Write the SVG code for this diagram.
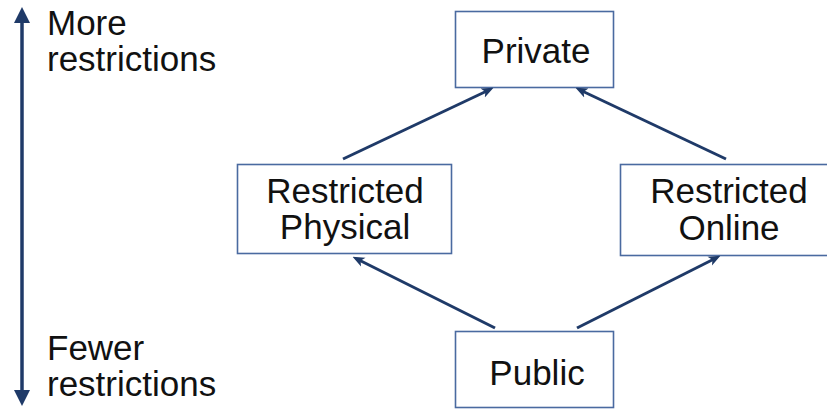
<svg xmlns="http://www.w3.org/2000/svg" width="827" height="409" viewBox="0 0 827 409">
<style>
.box{fill:#fff;stroke:#4a6aa0;stroke-width:1.6}
.t{font-family:"Liberation Sans",Arial,sans-serif;font-size:35px;fill:#111}
.c{text-anchor:middle}
.conn line{stroke:#1f3a68;stroke-width:3}
</style>
<defs>
<marker id="ah" markerWidth="12" markerHeight="12" refX="7" refY="6" orient="auto" markerUnits="userSpaceOnUse" viewBox="0 0 12 12">
<path d="M0,1 L12,6 L0,11 L3,6 Z" fill="#1f3a68"/>
</marker>
</defs>
<rect width="827" height="409" fill="#fff"/>
<g id="scale">
<line x1="22" y1="394" x2="22" y2="21" stroke="#1f3a68" stroke-width="3.5"/>
<path d="M22,7 L30,23 L14,23 Z" fill="#1f3a68"/>
<path d="M22,406 L30,390 L14,390 Z" fill="#1f3a68"/>
<text class="t" x="47" y="35"><tspan x="47" y="35">More</tspan><tspan x="47" y="71">restrictions</tspan></text>
<text class="t" x="47" y="360"><tspan x="47" y="360">Fewer</tspan><tspan x="47" y="396">restrictions</tspan></text>
</g>
<g id="private">
<rect class="box" x="455.5" y="11.5" width="158" height="76"/>
<text class="t c" x="536" y="63">Private</text>
</g>
<g id="physical">
<rect class="box" x="237.5" y="164.5" width="214" height="89"/>
<text class="t c" x="345" y="203"><tspan x="345" y="203">Restricted</tspan><tspan x="345" y="239">Physical</tspan></text>
</g>
<g id="online">
<rect class="box" x="620.5" y="164.5" width="218" height="91"/>
<text class="t c" x="729" y="203"><tspan x="729" y="203">Restricted</tspan><tspan x="729" y="240">Online</tspan></text>
</g>
<g id="public">
<rect class="box" x="455.5" y="331.5" width="158" height="76"/>
<text class="t c" x="537" y="385">Public</text>
</g>
<g class="conn" id="connectors">
<line x1="343" y1="159" x2="489" y2="90" marker-end="url(#ah)"/>
<line x1="726" y1="159" x2="580" y2="90" marker-end="url(#ah)"/>
<line x1="495" y1="328" x2="357" y2="259" marker-end="url(#ah)"/>
<line x1="577" y1="328" x2="716" y2="258" marker-end="url(#ah)"/>
</g>
</svg>
